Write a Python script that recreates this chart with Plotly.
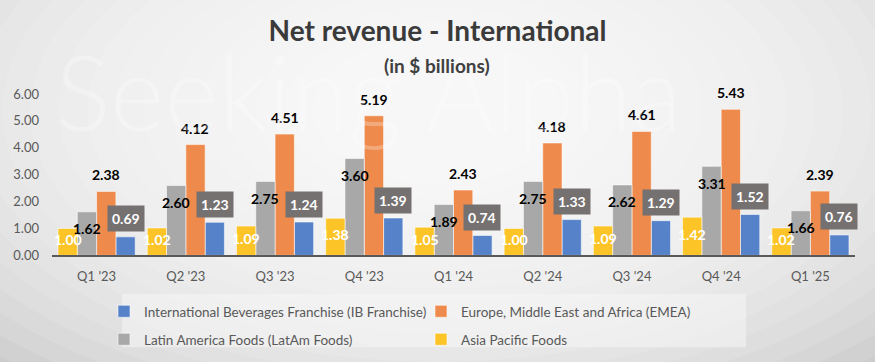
import plotly.graph_objects as go

quarters = ["Q1 '23", "Q2 '23", "Q3 '23", "Q4 '23", "Q1 '24", "Q2 '24", "Q3 '24", "Q4 '24", "Q1 '25"]
ib_franchise = [0.69, 1.23, 1.24, 1.39, 0.74, 1.33, 1.29, 1.52, 0.76]
emea = [2.38, 4.12, 4.51, 5.19, 2.43, 4.18, 4.61, 5.43, 2.39]
latam_foods = [1.62, 2.60, 2.75, 3.60, 1.89, 2.75, 2.62, 3.31, 1.66]
asia_pacific = [1.00, 1.02, 1.09, 1.38, 1.05, 1.00, 1.09, 1.42, 1.02]
y_ticks = [0, 1, 2, 3, 4, 5, 6]

W, H = 875, 362
L, R, T, B = 52, 20, 93.5, 105
plot_w = W - L - R
plot_h = H - T - B

def PX(px):
    return (px - L) / plot_w

def PY(py):
    return (H - B - py) / plot_h

FONT = "Lato"
BW = 0.865 / 4
x_idx = list(range(len(quarters)))

# series: name, values, color, slot position within group, legend
series = [
    ("International Beverages Franchise (IB Franchise)", ib_franchise, "#5582C8", 3, "legend"),
    ("Europe, Middle East and Africa (EMEA)", emea, "#EE8A4B", 2, "legend"),
    ("Latin America Foods (LatAm Foods)", latam_foods, "#A8A8A8", 1, "legend2"),
    ("Asia Pacific Foods", asia_pacific, "#FCC427", 0, "legend2"),
]

fig = go.Figure()
for name, vals, color, slot, leg in series:
    off = -0.4325 + slot * BW
    fig.add_trace(go.Bar(
        x=x_idx, y=vals, name=name, width=BW, offset=off,
        marker=dict(color=color, line=dict(color="rgba(255,255,255,0.55)", width=1)),
        legend=leg, hoverinfo="skip",
    ))

annotations = []
for name, vals, color, slot, leg in series:
    xc = -0.4325 + slot * BW + BW / 2
    for i, v in enumerate(vals):
        txt = f"{v:.2f}"
        if slot == 0:
            annotations.append(dict(x=i + xc, y=v / 2, text=f"<b>{txt}</b>", showarrow=False,
                                    yshift=2, font=dict(family=FONT, size=14, color="white")))
        elif slot == 1:
            annotations.append(dict(x=i + xc, y=v, text=f"<b>{txt}</b>", showarrow=False,
                                    yshift=-17, font=dict(family=FONT, size=14, color="black")))
        elif slot == 2:
            annotations.append(dict(x=i + xc, y=v, text=f"<b>{txt}</b>", showarrow=False,
                                    yshift=16.5, font=dict(family=FONT, size=14, color="black")))
        else:
            annotations.append(dict(x=i + xc, y=v, text=f"<b>{txt}</b>", showarrow=False,
                                    yshift=18, bgcolor="#757171", borderpad=4,
                                    font=dict(family=FONT, size=14, color="white")))

# watermark
annotations.append(dict(xref="paper", yref="paper", x=PX(368), y=PY(90), xanchor="center",
                        yanchor="middle", text="Seeking Alpha", showarrow=False,
                        font=dict(family=FONT, size=104, weight=300, color="rgba(255,255,255,0.28)")))
# subtitle
annotations.append(dict(xref="paper", yref="paper", x=PX(437), y=PY(65), xanchor="center",
                        yanchor="middle", text="<b>(in $ billions)</b>",
                        showarrow=False, font=dict(family=FONT, size=19, color="#404040")))

shapes = []
# radial background gradient
n = 22
cx, cy = 437, 110
for k in range(n):
    f = 1 - k / n
    rx, ry = 40 + 620 * f, 30 + 330 * f
    shapes.append(dict(type="circle", xref="paper", yref="paper", layer="below",
                       x0=PX(cx - rx), x1=PX(cx + rx), y0=PY(cy + ry), y1=PY(cy - ry),
                       fillcolor="rgba(255,255,255,0.11)", line=dict(width=0)))
# legend box
shapes.append(dict(type="rect", xref="paper", yref="paper", layer="below",
                   x0=PX(122), x1=PX(746), y0=PY(350), y1=PY(296),
                   fillcolor="rgba(245,245,245,0.55)", line=dict(width=0)))

leg_common = dict(orientation="h", xref="container", yref="container", xanchor="left",
                  yanchor="top", entrywidth=272, bgcolor="rgba(0,0,0,0)",
                  font=dict(family=FONT, size=13.5, color="#595959"), itemwidth=30)

fig.update_layout(
    width=W, height=H,
    margin=dict(l=L, r=R, t=T, b=B),
    paper_bgcolor="#c6c6c6",
    plot_bgcolor="rgba(0,0,0,0)",
    barmode="overlay",
    title=dict(text="<b>Net revenue - International</b>", x=0.5, xanchor="center",
               y=1 - 31 / H, yanchor="middle",
               font=dict(family=FONT, size=28, color="#3a3a3a")),
    xaxis=dict(range=[-0.5, len(quarters) - 0.5], tickvals=x_idx, ticktext=quarters,
               showgrid=False, zeroline=False, showline=True, linecolor="#595959", linewidth=2,
               tickfont=dict(family=FONT, size=13, color="#595959"), ticks="", ticklabelstandoff=8),
    yaxis=dict(range=[0, 6], tickvals=y_ticks, tickformat=".2f", showgrid=False, zeroline=False,
               showline=False, tickfont=dict(family=FONT, size=13, color="#595959"),
               ticks="", ticklabelstandoff=12),
    legend=dict(x=104 / W, y=1 - 296 / H, **leg_common),
    legend2=dict(x=104 / W, y=1 - 324 / H, **leg_common),
    annotations=annotations,
    shapes=shapes,
    showlegend=True,
)

fig.write_html("out.html", config={"displayModeBar": False},
               post_script="document.body.style.margin='0';")
